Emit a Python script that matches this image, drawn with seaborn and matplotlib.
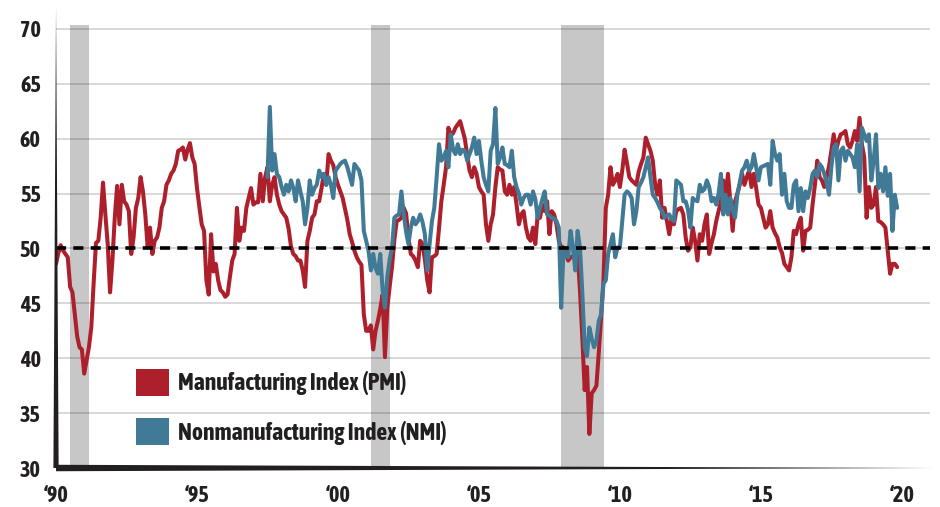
import pandas as pd
import matplotlib
matplotlib.use("Agg")
import matplotlib.pyplot as plt
import seaborn as sns
from matplotlib.patches import Patch
from matplotlib import font_manager

# ISM indexes, monthly
pmi_start = "1990-01"
pmi = [
    48.6, 49.6, 50.3, 49.8, 49.5, 49.2, 46.5, 46.0, 44.0, 42.0, 41.0, 40.8,  # 1990
    38.6, 39.8, 41.0, 42.8, 46.8, 50.5, 50.7, 52.8, 56.0, 53.1, 50.4, 46.0,  # 1991
    48.9, 52.8, 55.7, 52.2, 55.8, 54.3, 54.0, 53.4, 49.5, 51.0, 53.7, 54.6,  # 1992
    56.5, 55.2, 53.1, 50.1, 51.9, 49.5, 50.7, 51.0, 51.9, 53.7, 54.3, 55.8,  # 1993
    56.2, 56.8, 57.1, 57.7, 58.9, 59.0, 59.2, 58.1, 59.0, 59.6, 58.3, 57.7,  # 1994
    55.5, 53.8, 52.2, 51.6, 47.1, 45.8, 51.3, 47.9, 48.6, 47.1, 46.2, 46.0,  # 1995
    45.6, 45.8, 47.4, 48.9, 49.5, 53.7, 50.7, 51.9, 51.6, 53.7, 54.6, 55.5,  # 1996
    54.0, 54.2, 54.2, 56.8, 54.3, 56.5, 57.4, 54.3, 55.8, 56.5, 54.9, 54.0,  # 1997
    53.4, 53.1, 52.8, 51.8, 50.2, 49.5, 49.3, 48.9, 48.9, 48.0, 46.5, 50.7,  # 1998
    51.6, 52.8, 53.1, 54.3, 54.3, 55.5, 56.8, 55.8, 58.6, 58.0, 57.6, 56.5,  # 1999
    55.8, 55.2, 54.6, 53.6, 52.6, 51.3, 50.6, 49.8, 49.2, 48.8, 48.5, 44.0,  # 2000
    42.5, 42.5, 43.0, 40.8, 42.5, 43.4, 44.5, 45.8, 40.1, 44.6, 46.5, 48.3,  # 2001
    50.8, 52.5, 52.6, 52.8, 53.7, 53.2, 51.0, 49.5, 49.3, 48.9, 48.3, 50.7,  # 2002
    50.4, 49.0, 47.1, 46.0, 49.2, 49.3, 49.5, 51.8, 54.3, 55.8, 57.4, 61.0,  # 2003
    60.3, 60.5, 61.0, 61.3, 61.6, 60.8, 60.0, 58.5, 57.1, 56.5, 57.4, 56.8,  # 2004
    55.6, 55.2, 54.9, 52.2, 50.7, 52.2, 53.1, 55.6, 57.4, 57.2, 57.1, 55.2,  # 2005
    54.9, 55.8, 54.9, 55.6, 54.0, 52.2, 53.1, 53.4, 51.9, 51.0, 50.7, 51.9,  # 2006
    50.4, 53.1, 52.8, 54.0, 53.4, 54.3, 51.3, 53.4, 53.1, 52.2, 50.7, 50.1,  # 2007
    50.1, 49.5, 48.9, 49.2, 49.3, 49.5, 49.5, 46.2, 41.9, 37.1, 39.2, 33.1,  # 2008
    36.8, 37.1, 37.5, 40.5, 43.7, 47.1, 53.7, 54.9, 57.4, 55.8, 56.2, 56.8,  # 2009
    55.6, 57.1, 59.0, 57.8, 56.5, 56.2, 56.0, 55.8, 57.0, 57.7, 58.3, 60.1,  # 2010
    59.5, 58.9, 58.0, 55.8, 54.9, 56.2, 52.8, 53.7, 52.5, 51.3, 52.8, 52.2,  # 2011
    53.4, 53.6, 53.7, 53.1, 51.0, 49.8, 50.1, 51.9, 50.7, 48.9, 51.3, 50.7,  # 2012
    52.2, 53.1, 49.5, 50.5, 51.3, 52.5, 53.4, 54.3, 56.2, 54.6, 56.8, 54.3,  # 2013
    51.6, 54.3, 55.0, 55.8, 56.8, 55.8, 56.5, 57.1, 55.6, 56.8, 55.5, 54.0,  # 2014
    53.7, 52.8, 51.9, 52.2, 53.4, 51.9, 51.4, 51.0, 50.1, 49.6, 48.6, 48.3,  # 2015
    48.0, 49.2, 51.6, 51.3, 52.2, 52.8, 49.8, 51.6, 51.7, 51.9, 54.0, 55.8,  # 2016
    58.0, 56.5, 56.2, 55.6, 56.5, 57.5, 58.9, 60.4, 58.9, 59.8, 60.4, 60.5,  # 2017
    60.7, 59.5, 59.2, 59.8, 60.7, 59.8, 61.9, 59.5, 58.3, 52.8, 55.6, 53.7,  # 2018
    54.0, 55.6, 52.5, 52.4, 52.2, 51.9, 49.8, 47.7, 48.6, 48.6, 48.3,        # 2019
]

nmi_start = "1997-07"
nmi = [
    56.5, 62.9, 57.1, 58.6, 56.8, 56.5,                                      # 1997
    55.6, 54.9, 55.8, 55.2, 56.2, 55.5, 54.3, 56.2, 55.2, 54.3, 52.2, 53.7,  # 1998
    56.2, 54.9, 55.5, 55.8, 57.1, 56.5, 56.8, 55.8, 56.5, 55.8, 54.6, 57.1,  # 1999
    57.4, 57.7, 57.9, 58.0, 57.4, 56.6, 55.8, 57.7, 57.4, 57.1, 56.2, 51.6,  # 2000
    50.7, 49.8, 48.0, 49.5, 48.2, 47.7, 49.5, 46.2, 44.6, 47.4, 49.0, 50.1,  # 2001
    52.8, 53.0, 53.1, 55.2, 53.1, 51.5, 50.4, 51.9, 52.8, 52.2, 52.5, 53.1,  # 2002
    52.4, 51.3, 48.0, 50.4, 52.5, 53.7, 56.5, 59.5, 58.0, 58.3, 58.9, 57.4,  # 2003
    60.4, 59.0, 58.6, 59.5, 58.6, 59.0, 58.9, 58.0, 58.6, 59.2, 60.1, 58.6,  # 2004
    59.8, 58.0, 56.5, 55.8, 55.2, 58.9, 59.5, 62.8, 57.7, 58.3, 59.2, 57.7,  # 2005
    57.6, 57.4, 58.9, 56.5, 55.6, 55.0, 54.0, 54.6, 54.9, 54.9, 54.0, 55.2,  # 2006
    54.5, 52.8, 53.7, 54.5, 55.2, 53.1, 53.0, 52.8, 52.7, 52.5, 51.9, 44.6,  # 2007
    49.8, 49.4, 49.2, 51.6, 50.1, 48.0, 51.6, 50.1, 46.0, 41.0, 40.2, 42.8,  # 2008
    41.8, 41.0, 41.6, 43.4, 44.0, 46.8, 47.1, 49.5, 50.4, 51.3, 49.2, 50.1,  # 2009
    50.1, 52.5, 54.9, 55.2, 55.0, 54.6, 52.2, 53.4, 55.6, 56.0, 56.5, 57.4,  # 2010
    58.3, 56.5, 54.9, 54.6, 54.2, 53.7, 53.4, 52.8, 53.0, 53.1, 52.7, 52.5,  # 2011
    56.2, 56.0, 55.8, 54.3, 54.3, 53.5, 51.9, 54.6, 54.4, 54.3, 55.8, 55.2,  # 2012
    55.4, 56.2, 55.6, 54.3, 54.6, 54.0, 55.0, 56.8, 53.1, 54.9, 53.1, 54.6,  # 2013
    53.5, 52.8, 54.9, 56.0, 57.1, 57.4, 58.0, 57.1, 57.4, 58.6, 57.4, 56.2,  # 2014
    57.4, 57.5, 57.6, 57.7, 55.8, 59.8, 58.6, 58.0, 58.6, 54.9, 56.8, 54.3,  # 2015
    53.7, 53.7, 55.8, 56.2, 53.4, 55.5, 53.4, 55.2, 54.6, 55.5, 56.8, 57.1,  # 2016
    56.5, 57.7, 57.4, 56.8, 56.0, 54.9, 57.4, 59.2, 59.5, 56.2, 58.9, 59.2,  # 2017
    58.0, 58.9, 58.6, 58.3, 57.4, 59.5, 55.2, 61.0, 60.4, 59.8, 60.4, 56.2,  # 2018
    58.0, 60.4, 55.5, 56.8, 55.2, 57.4, 54.8, 56.8, 51.6, 54.9, 53.7,        # 2019
]

series_names = ["Manufacturing Index (PMI)", "Nonmanufacturing Index (NMI)"]
colors = ["#ad1f2b", "#417a96"]
recessions = [(1990.5, 1991.17), (2001.17, 2001.84), (2007.92, 2009.42)]
year_ticks = [1990, 1995, 2000, 2005, 2010, 2015, 2020]
year_labels = ["\u201890", "\u201895", "\u201800", "\u201805", "\u201810", "\u201815", "\u201820"]
y_ticks = [30, 35, 40, 45, 50, 55, 60, 65, 70]


def decimal_years(start, n):
    d = pd.date_range(start, periods=n, freq="MS")
    return d.year + (d.month - 1) / 12


df = pd.concat([
    pd.DataFrame({"t": decimal_years(pmi_start, len(pmi)), "value": pmi, "series": series_names[0]}),
    pd.DataFrame({"t": decimal_years(nmi_start, len(nmi)), "value": nmi, "series": series_names[1]}),
])

sns.set_theme(style="white")
# a condensed face that has a real bold weight, otherwise Roboto a bit smaller
bold_narrow = sorted({
    f.name for f in font_manager.fontManager.ttflist
    if ("Condensed" in f.name or "Narrow" in f.name)
    and isinstance(f.weight, int) and f.weight >= 600
})
if bold_narrow:
    main_font, legend_size, tick_size = bold_narrow[0], 17, 16
else:
    main_font, legend_size, tick_size = "Roboto", 14, 14
plt.rcParams["font.family"] = [main_font, "DejaVu Sans"]
ink = "#231f20"

fig = plt.figure(figsize=(9.4, 5.07), dpi=100)
ax = fig.add_axes([0.0596, 0.0769, 0.9298, 0.9093])

# recession bands and grid
for a, b in recessions:
    ax.axvspan(a, b, ymin=0, ymax=(70.4 - 30) / 42, color="black", alpha=0.22, lw=0, zorder=2)
for y in y_ticks[1:]:
    ax.axhline(y, color="#d6d6d6", lw=1.3, zorder=1)

sns.lineplot(data=df, x="t", y="value", hue="series", hue_order=series_names,
             palette=colors, linewidth=2.9, legend=False, ax=ax, zorder=3)

ax.axhline(50, color="black", lw=2.6, linestyle=(0, (2.8, 2.0)), zorder=5)

# tapered axis lines
for s in ax.spines.values():
    s.set_visible(False)
ax.fill([-0.003, 0.003, 0.0], [0, 0, 1.0], transform=ax.transAxes,
        color=ink, clip_on=False, zorder=6, lw=0)
ax.fill([0, 0, 1.004], [-0.007, 0.007, 0.0], transform=ax.transAxes,
        color=ink, clip_on=False, zorder=6, lw=0)

ax.set_xlim(1990, 2021)
ax.set_ylim(30, 72)
ax.set_xticks(year_ticks, year_labels)
ax.set_yticks(y_ticks)
ax.set_xlabel("")
ax.set_ylabel("")
ax.tick_params(axis="both", direction="out", length=8, width=2, color=ink,
               labelsize=tick_size, labelcolor=ink, pad=3)
ax.tick_params(axis="x", pad=4)
for lbl in ax.get_xticklabels() + ax.get_yticklabels():
    lbl.set_fontweight("bold")

handles = [Patch(facecolor=c, edgecolor="none") for c in colors]
leg = ax.legend(handles, series_names, loc="upper left", bbox_to_anchor=(0.0915, 0.215),
                frameon=False, handlelength=1.4, handleheight=1.4, handletextpad=0.38,
                labelspacing=0.93, borderpad=0, borderaxespad=0,
                prop={"size": legend_size, "weight": "bold"})
for txt in leg.get_texts():
    txt.set_color(ink)
leg.set_zorder(7)

fig.savefig("out.png", dpi=100)
